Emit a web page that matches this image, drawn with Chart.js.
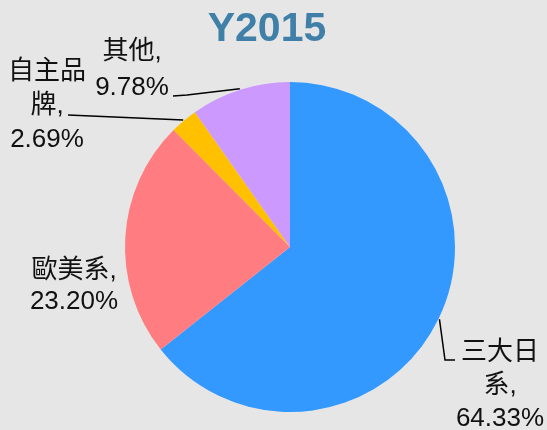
<!DOCTYPE html>
<html>
<head>
<meta charset="utf-8">
<script src="https://cdn.jsdelivr.net/npm/chart.js@4/dist/chart.umd.min.js"></script>
<style>
  body { margin: 0; background: #e6e6e6; }
  canvas { display: block; }
</style>
</head>
<body>
<canvas id="myChart" width="547" height="430"></canvas>
<script>
// chart data
let categories = ["三大日系", "歐美系", "自主品牌", "其他"];
let shares = [64.33, 23.20, 2.69, 9.78];
let sliceColors = ["#3399ff", "#ff7c80", "#ffc000", "#cc99ff"];
let chartTitle = "Y2015";

// how each label is broken into lines (text only)
let labelLines = [
  ["三大日", "系,", "64.33%"],
  ["歐美系,", "23.20%"],
  ["自主品", "牌,", "2.69%"],
  ["其他,", "9.78%"]
];

// where labels sit: text centre + leader line bends (null = no line)
let labelLayout = [
  { x: 500, y: 353, lineH: 33, leader: [[445, 360], [455, 360]] },
  { x: 74, y: 271, lineH: 31, leader: null },
  { x: 47, y: 72, lineH: 34, leader: [[68, 115]] },
  { x: 132, y: 52, lineH: 36, leader: [[187, 95], [173, 96]] }
];

const font = '"Liberation Sans", "Noto Sans CJK TC", sans-serif';

// draw title + outside labels with leader lines
const outsideLabels = {
  id: "outsideLabels",
  afterDraw(chart) {
    let ctx = chart.ctx;
    ctx.save();

    ctx.fillStyle = "#3f7fa8";
    ctx.font = "bold 41px " + font;
    ctx.textAlign = "center";
    ctx.textBaseline = "middle";
    ctx.fillText(chartTitle, 267, 30);

    let arcs = chart.getDatasetMeta(0).data;
    arcs.forEach((arc, i) => {
      let lay = labelLayout[i];
      if (lay.leader) {
        let mid = (arc.startAngle + arc.endAngle) / 2;
        let r = arc.outerRadius + 1;
        ctx.beginPath();
        ctx.moveTo(arc.x + Math.cos(mid) * r, arc.y + Math.sin(mid) * r);
        lay.leader.forEach(p => ctx.lineTo(p[0], p[1]));
        ctx.strokeStyle = "#000";
        ctx.lineWidth = 1.5;
        ctx.stroke();
      }
      ctx.fillStyle = "#111";
      ctx.font = "26px " + font;
      labelLines[i].forEach((txt, j) => {
        ctx.fillText(txt, lay.x, lay.y + j * lay.lineH);
      });
    });
    ctx.restore();
  }
};

let ctx = document.getElementById("myChart").getContext("2d");

let myChart = new Chart(ctx, {
  type: "pie",
  data: {
    labels: categories,
    datasets: [
      {
        data: shares,
        backgroundColor: sliceColors,
        borderWidth: 0
      }
    ]
  },
  options: {
    responsive: false,
    animation: false,
    layout: {
      padding: { left: 125, right: 92, top: 82, bottom: 18 }
    },
    plugins: {
      legend: { display: false },
      title: { display: false },
      tooltip: { enabled: false }
    }
  },
  plugins: [outsideLabels]
});
</script>
</body>
</html>
